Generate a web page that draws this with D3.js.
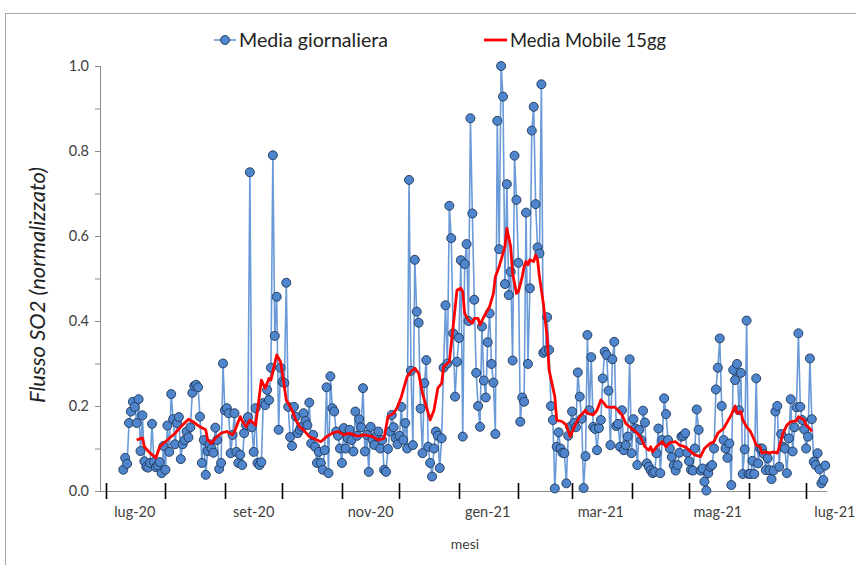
<!DOCTYPE html>
<html>
<head>
<meta charset="utf-8">
<script src="https://cdn.jsdelivr.net/npm/d3@7"></script>
<style>
  html, body { margin: 0; padding: 0; background: #fff; }
  svg { display: block; font-family: Lato, "Open Sans", sans-serif; }
</style>
</head>
<body>
<svg id="chart" width="856" height="565"></svg>
<script>
// Daily normalised SO2 flux, one value per day starting 10 Jul 2020
const dailyStart = "2020-07-10";
const dailyJul20 = [.05,.078,.064,.16,.187,.21,.198,.16,.216,.094,.178,.07,.057,.055,.066,.158,.068,.056,.06,.068,.042,.106];
const dailyAug20 = [.05,.154,.092,.228,.169,.11,.16,.174,.075,.11,.12,.14,.126,.15,.231,.247,.25,.244,.175,.066,.12,.038,.094,.11,.1,.09,.149,.12,.052,.066,.30];
const dailySep20 = [.19,.195,.183,.089,.132,.183,.092,.066,.085,.061,.136,.155,.174,.75,.15,.092,.195,.066,.061,.068,.207,.202,.238,.214,.29,.79,.365,.457,.144,.29];
const dailyOct20 = [.257,.254,.49,.198,.127,.106,.198,.175,.136,.144,.151,.183,.165,.155,.208,.112,.132,.104,.066,.092,.066,.05,.096,.244,.042,.27,.195,.187,.14,.13,.10];
const dailyNov20 = [.066,.148,.10,.124,.144,.12,.093,.187,.13,.169,.15,.242,.093,.132,.045,.151,.12,.108,.13,.14,.10,.12,.05,.045,.099,.14,.179,.15,.124,.11];
const dailyDec20 = [.13,.198,.12,.16,.10,.732,.283,.108,.544,.422,.396,.194,.089,.254,.308,.104,.066,.034,.10,.14,.13,.054,.124,.29,.437,.30,.671,.595,.371,.222,.304];
const dailyJan21 = [.36,.543,.128,.534,.581,.40,.877,.653,.45,.278,.20,.151,.387,.26,.22,.35,.418,.299,.255,.134,.871,.569,1.0,.928,.487,.722,.461,.516,.307,.789,.685];
const dailyFeb21 = [.537,.163,.22,.21,.655,.299,.477,.848,.904,.675,.573,.559,.957,.325,.33,.409,.332,.20,.167,.006,.104,.138,.10,.09,.089,.018,.13,.151];
const dailyMar21 = [.187,.16,.15,.279,.222,.17,.007,.082,.367,.19,.315,.151,.146,.096,.148,.167,.265,.328,.32,.236,.108,.31,.351,.153,.158,.104,.19,.096,.108,.128,.31];
const dailyApr21 = [.089,.169,.147,.061,.144,.12,.189,.161,.065,.057,.049,.042,.045,.089,.147,.042,.12,.218,.181,.12,.10,.08,.06,.048,.061,.09,.128,.13,.136,.09];
const dailyMay21 = [.07,.05,.048,.10,.192,.144,.048,.053,.022,.001,.042,.057,.061,.10,.239,.29,.359,.2,.12,.10,.078,.112,.014,.285,.261,.299,.19,.278,.04,.098,.401];
const dailyJun21 = [.04,.04,.071,.04,.265,.065,.10,.10,.087,.049,.077,.049,.028,.048,.187,.2,.057,.134,.104,.10,.042,.124,.216,.093,.15,.197,.371,.198,.167,.145];
const dailyJul21 = [.10,.128,.312,.169,.069,.061,.089,.051,.018,.026,.06];

// 15-day moving average: days counted from 1 Jul 2020, and its values
const maDay = [16,19,20,23,26,28,32,36,39,43,46,49,52,53,55,57,60,63,66,67,70,71,73,75,78,81,83,85,86,89,91,92,94,97,99,101,103,106,110,112,115,118,121,124,127,131,135,139,142,145,147,150,152,154,157,159,161,163,165,168,169,171,173,175,176,179,181,183,185,186,187,189,191,192,194,195,197,198,200,202,203,205,206,208,209,211,212,214,215,217,218,219,220,221,223,224,225,226,228,230,231,234,235,238,240,242,245,247,250,251,254,256,258,259,261,264,265,267,269,271,273,275,277,279,281,283,284,285,287,290,292,294,297,299,302,305,307,310,312,313,315,317,319,322,324,326,328,329,331,332,334,336,338,339,341,342,344,346,348,350,351,353,355,357,360,361,364,365,367,368];
const maValue = [.12,.125,.104,.089,.078,.104,.12,.136,.151,.169,.161,.151,.144,.12,.112,.124,.136,.14,.132,.14,.175,.165,.151,.167,.155,.261,.242,.265,.261,.32,.304,.277,.214,.19,.167,.151,.144,.128,.12,.116,.128,.136,.14,.132,.136,.129,.132,.128,.12,.124,.175,.183,.198,.222,.269,.281,.289,.277,.23,.183,.167,.19,.242,.253,.292,.304,.387,.473,.477,.469,.418,.402,.395,.406,.406,.391,.41,.418,.434,.465,.504,.528,.544,.575,.618,.575,.512,.465,.469,.504,.528,.54,.532,.544,.54,.555,.544,.504,.442,.363,.285,.222,.167,.163,.155,.128,.159,.175,.19,.183,.179,.19,.214,.21,.198,.197,.198,.19,.179,.159,.151,.144,.136,.124,.104,.096,.104,.092,.104,.116,.104,.114,.116,.108,.104,.092,.085,.081,.10,.104,.112,.116,.136,.147,.163,.179,.2,.183,.187,.167,.151,.14,.12,.108,.104,.089,.092,.089,.092,.089,.104,.136,.155,.163,.165,.175,.167,.155,.147,.14];

// Axis labels
const monthTickLabels = ["lug-20","set-20","nov-20","gen-21","mar-21","mag-21","lug-21"];
const yTickValues = [0, 0.2, 0.4, 0.6, 0.8, 1.0];
const seriesNames = ["Media giornaliera", "Media Mobile 15gg"];

const parse = d3.utcParse("%Y-%m-%d");
const origin = parse("2020-07-01");
const start = parse(dailyStart);
const dailyValues = [].concat(dailyJul20, dailyAug20, dailySep20, dailyOct20, dailyNov20, dailyDec20,
  dailyJan21, dailyFeb21, dailyMar21, dailyApr21, dailyMay21, dailyJun21, dailyJul21);
const daily = dailyValues.map((v, i) => ({ date: d3.utcDay.offset(start, i), value: v }));
const ma = maDay.map((d, i) => ({ date: d3.utcDay.offset(origin, d), value: maValue[i] }));

const svg = d3.select("#chart");

// outer frame
svg.append("rect").attr("x", 5.5).attr("y", 13.5).attr("width", 900).attr("height", 600)
  .attr("fill", "none").attr("stroke", "#a6a6a6").attr("stroke-width", 1);

const x = d3.scaleUtc()
  .domain([origin, parse("2021-07-12")])
  .range([106, 106 + 376 * 1.918]);
const y = d3.scaleLinear().domain([0, 1]).range([491, 66]);

// y axis
const yAxis = svg.append("g").attr("transform", "translate(100,0)")
  .call(d3.axisLeft(y).tickValues(d3.range(0, 1.0001, 0.1)).tickSize(5)
    .tickFormat(d => yTickValues.some(t => Math.abs(t - d) < 1e-6) ? d3.format(".1f")(d) : ""));
yAxis.select(".domain").attr("stroke", "#8c8c8c").attr("d", "M0.5,66V491.5");
yAxis.selectAll(".tick line").attr("stroke", "#8c8c8c");
yAxis.selectAll(".tick text").attr("font-size", 14.5).attr("fill", "#404040")
  .attr("font-family", "Lato, sans-serif").attr("x", -11);

// x axis: month-start ticks crossing the baseline, labels mid-month every two months
const monthStarts = d3.utcMonth.range(origin, parse("2021-07-02"));
const xAxisG = svg.append("g");
xAxisG.append("line").attr("x1", 100).attr("x2", x.range()[1]).attr("y1", 491.5).attr("y2", 491.5)
  .attr("stroke", "#8c8c8c").attr("stroke-width", 1);
xAxisG.selectAll("line.tick").data(monthStarts).join("line").attr("class", "tick")
  .attr("x1", d => Math.round(x(d)) + 0.5).attr("x2", d => Math.round(x(d)) + 0.5)
  .attr("y1", 483).attr("y2", 499).attr("stroke", "#000").attr("stroke-width", 1.6);
const labelDates = monthTickLabels.map((t, i) => d3.utcDay.offset(d3.utcMonth.offset(origin, i * 2), 15));
xAxisG.selectAll("text").data(monthTickLabels).join("text")
  .attr("x", (d, i) => x(labelDates[i])).attr("y", 517)
  .attr("text-anchor", "middle").attr("font-size", 14.5).attr("fill", "#404040").text(d => d);

// axis titles
svg.append("text").attr("transform", "translate(45,285) rotate(-90)")
  .attr("text-anchor", "middle").attr("font-size", 22).attr("font-style", "italic")
  .attr("fill", "#222").text("Flusso SO2 (normalizzato)");
svg.append("text").attr("x", 465).attr("y", 549).attr("text-anchor", "middle")
  .attr("font-size", 14).attr("fill", "#404040").text("mesi");

// daily series
const lineGen = d3.line().x(d => x(d.date)).y(d => y(d.value));
svg.append("path").datum(daily).attr("d", lineGen)
  .attr("fill", "none").attr("stroke", "#6a9ad8").attr("stroke-width", 1.6);
svg.append("g").selectAll("circle").data(daily).join("circle")
  .attr("cx", d => x(d.date)).attr("cy", d => y(d.value)).attr("r", 4.5)
  .attr("fill", "#4f85cc").attr("stroke", "#1d3557").attr("stroke-width", 0.9);

// moving average
svg.append("path").datum(ma).attr("d", lineGen)
  .attr("fill", "none").attr("stroke", "#ff0000").attr("stroke-width", 2.8)
  .attr("stroke-linejoin", "round");

// legend
const legend = svg.append("g");
legend.append("line").attr("x1", 214).attr("x2", 236).attr("y1", 40).attr("y2", 40)
  .attr("stroke", "#6a9ad8").attr("stroke-width", 1.6);
legend.append("circle").attr("cx", 225).attr("cy", 40).attr("r", 4.5)
  .attr("fill", "#4f85cc").attr("stroke", "#1d3557").attr("stroke-width", 0.9);
legend.append("text").attr("x", 239).attr("y", 47).attr("font-size", 19).attr("fill", "#222")
  .attr("textLength", 149).attr("lengthAdjust", "spacingAndGlyphs").text(seriesNames[0]);
legend.append("line").attr("x1", 484).attr("x2", 507).attr("y1", 40).attr("y2", 40)
  .attr("stroke", "#ff0000").attr("stroke-width", 2.8);
legend.append("text").attr("x", 510).attr("y", 47).attr("font-size", 19).attr("fill", "#222")
  .attr("textLength", 156).attr("lengthAdjust", "spacingAndGlyphs").text(seriesNames[1]);
</script>
</body>
</html>
